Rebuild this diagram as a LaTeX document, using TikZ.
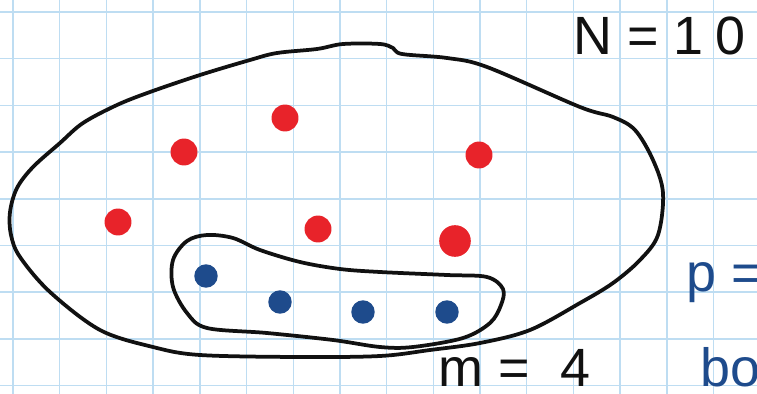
\documentclass[tikz,border=0pt]{standalone}
\usepackage{fontspec}
\setmainfont{Liberation Sans}
\usepackage{xcolor}
\definecolor{gridblue}{HTML}{BEDDF2}
\definecolor{inkred}{HTML}{E8232A}
\definecolor{inkblue}{HTML}{1E4B8C}
\definecolor{inkblack}{HTML}{111111}
\usepackage{tikz}
\usetikzlibrary{positioning}
\newcommand{\handtext}{\fontsize{46}{46}\selectfont}
\tikzset{
  pen/.style={inkblack, line width=3.2pt, line cap=round, line join=round},
  reddot/.style={circle, fill=inkred, inner sep=0pt, minimum size=23pt},
  bluedot/.style={circle, fill=inkblue, inner sep=0pt, minimum size=20pt},
  scrawl/.style={anchor=base west, inner sep=0pt, text depth=0pt, font=\handtext},
}

\begin{document}
\begin{tikzpicture}[x=0.03cm, y=-0.03cm]
  \useasboundingbox (0,0) rectangle (757,394);
  \clip (0,0) rectangle (757,394);
  \fill[white] (0,0) rectangle (757,394);

  % squared paper
  \foreach \i in {0,...,16} {
    \draw[gridblue, line width=1.2pt] (13+46.7*\i,0) -- (13+46.7*\i,394);
  }
  \foreach \j in {0,...,8} {
    \draw[gridblue, line width=1.2pt] (0,12+46.7*\j) -- (757,12+46.7*\j);
  }

  % population: outer loop
  \draw[pen] plot[smooth cycle, tension=0.55] coordinates {
    (10,212) (17,188) (33,167) (60,143) (83,123) (117,105) (150,92)
    (200,75) (250,60) (277,53) (317,49) (343,44) (380,44) (393,48)
    (402,54) (447,58) (487,67) (580,107) (613,117) (635,130) (653,160)
    (663,193) (658,235) (640,260) (613,283) (580,303) (530,330)
    (480,343) (430,350) (380,356) (300,357) (200,355) (153,347)
    (100,330) (50,292) (20,257) (11,235)};

  % sample: inner loop
  \draw[pen] plot[smooth cycle, tension=0.55] coordinates {
    (207,235) (233,238) (260,250) (300,262) (340,269) (380,272)
    (447,275) (487,277) (503,289) (501,305) (490,323) (463,338)
    (413,347) (380,347) (333,340) (267,333) (207,328) (187,313)
    (173,287) (173,260) (187,241)};

  % red points outside the sample
  \foreach \p [count=\k] in {(118,222), (184,152), (285,118), (479,155), (318,229)} {
    \node[reddot] (red\k) at \p {};
  }
  \node[reddot, minimum size=27pt] (red6) at (455,241) {};

  % blue points in the sample
  \foreach \p [count=\k] in {(206,276), (280,302), (363,312), (447,312)} {
    \node[bluedot] (blue\k) at \p {};
  }

  % notes
  \node[scrawl, inkblack] (bigN) at (573,55) {N = 1\hspace{10pt}0};
  \node[scrawl, inkblack] (smallm) at (438,386) {m = \hspace{14pt}4};
  \node[scrawl, inkblue] (pnote) at (686,291) {p =};
  \node[scrawl, inkblue] (bonote) at (700,386) {bo};
\end{tikzpicture}
\end{document}
